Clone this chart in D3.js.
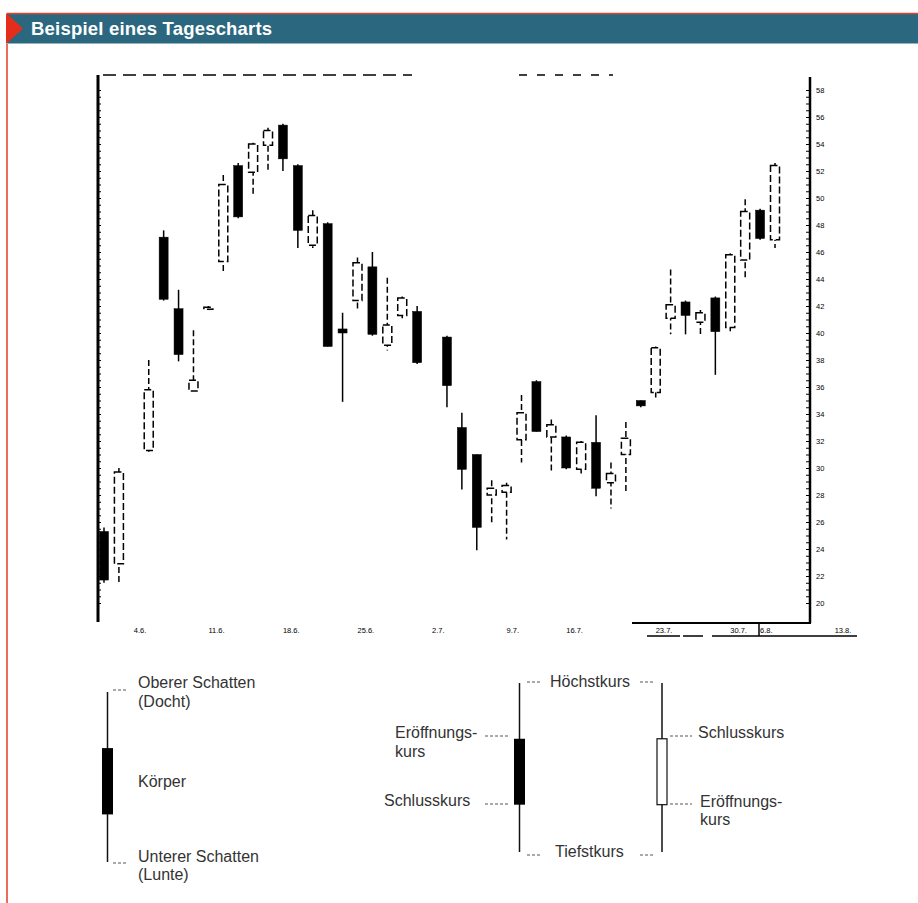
<!DOCTYPE html>
<html>
<head>
<meta charset="utf-8">
<title>Beispiel eines Tagescharts</title>
<script src="https://cdn.jsdelivr.net/npm/d3@7"></script>
<style>
  body { margin: 0; background: #fff; }
  svg { display: block; font-family: "Liberation Sans", Arial, sans-serif; }
  .note { font-size: 16px; fill: #333; }
  .lead { stroke: #555; stroke-width: 1; stroke-dasharray: 3,2; }
  .small { font-size: 7.5px; fill: #000; }
</style>
</head>
<body>
<div id="chart"></div>
<script>

// daily candles, trading day 0..45 (null = no candle that day)
var openP  = [25.3, 22.9, null, 31.3, 47.1, 41.8, 35.7, 41.8, 45.3, 52.4, 51.9, 53.9, 55.4, 52.4, 46.5, 48.1,
              40.3, 42.4, 44.9, 39.1, 41.3, 41.6, null, 39.7, 33.0, 31.0, 28.0, 28.2, 32.1, 36.4, 32.3, 32.3,
              29.9, 31.9, 28.9, 31.0, 35.0, 35.6, 41.1, 42.3, 40.8, 42.6, 40.4, 45.4, 49.1, 46.9];
var highP  = [25.6, 30.0, null, 38.0, 47.6, 43.2, 40.2, 42.0, 51.7, 52.6, 54.1, 55.2, 55.5, 52.5, 49.1, 48.2,
              41.5, 45.6, 46.0, 44.1, 42.7, 42.0, null, 39.8, 34.1, 31.0, 29.1, 28.9, 35.4, 36.5, 33.6, 32.4,
              32.0, 33.9, 30.4, 33.4, 35.0, 39.0, 44.7, 42.4, 41.7, 42.7, 45.9, 49.9, 49.2, 52.6];
var lowP   = [21.5, 21.5, null, 31.2, 42.4, 37.9, 35.6, 41.7, 44.5, 48.5, 50.1, 52.0, 52.0, 46.3, 46.3, 39.0,
              34.9, 41.6, 39.8, 38.7, 41.1, 37.7, null, 34.5, 28.4, 23.9, 25.9, 24.7, 30.4, 32.7, 29.6, 29.9,
              29.6, 27.9, 27.0, 28.1, 34.5, 35.0, 39.9, 39.9, 39.9, 36.9, 39.9, 43.9, 46.9, 46.3];
var closeP = [21.7, 29.7, null, 35.8, 42.5, 38.4, 36.5, 41.9, 51.0, 48.6, 54.0, 55.0, 52.9, 47.6, 48.7, 39.0,
              40.0, 45.2, 39.9, 40.6, 42.6, 37.8, null, 36.1, 29.9, 25.6, 28.5, 28.7, 34.1, 32.7, 33.2, 30.0,
              31.9, 28.5, 29.6, 32.2, 34.6, 38.9, 42.1, 41.3, 41.5, 40.1, 45.8, 49.0, 47.0, 52.4];

var priceTicks = d3.range(20, 59, 2);
var dateTicks  = [2, 7, 12, 17, 22, 27, 31, 37, 42, 44, 49];
var dateLabels = ["4.6.", "11.6.", "18.6.", "25.6.", "2.7.", "9.7.", "16.7.", "23.7.", "30.7.", "6.8.", "13.8."];

// legend example candle (open, high, low, close)
var legendOHLC = [6.7, 10, 0, 2.8];

var width = 918,
    height = 903;

var svg = d3.select("#chart").append("svg")
    .attr("width", width)
    .attr("height", height);

// header bar
svg.append("rect")
  .attr("x", 7).attr("y", 13.5)
  .attr("width", width - 7).attr("height", 30)
  .attr("fill", "#2b6880");
svg.append("line")
  .attr("x1", 7).attr("x2", width).attr("y1", 13.5).attr("y2", 13.5)
  .attr("stroke", "#e0452f").attr("stroke-width", 1.5);
svg.append("path")
  .attr("d", "M6,13 L23,28.5 L6,44 Z")
  .attr("fill", "#e42d1a");
svg.append("line")
  .attr("x1", 7).attr("x2", 7).attr("y1", 44).attr("y2", height)
  .attr("stroke", "#ef6a58").attr("stroke-width", 2);
svg.append("text")
  .attr("x", 31).attr("y", 35)
  .attr("fill", "#fff")
  .style("font-size", "18.5px")
  .style("font-weight", "bold")
  .style("letter-spacing", "0.2px")
  .text("Beispiel eines Tagescharts");

// scales
var x = d3.scaleLinear().domain([0, 45]).range([104, 775]);
var y = d3.scaleLinear().domain([20, 58]).range([603, 90]);

var days = openP.map(function(o, i) {
  return {i: i, o: o, h: highP[i], l: lowP[i], c: closeP[i]};
}).filter(function(d) { return d.o != null; });

// frame
var frame = svg.append("g").attr("stroke", "#000").attr("fill", "none");
frame.append("line").attr("x1", 98).attr("x2", 98).attr("y1", 75).attr("y2", 622).attr("stroke-width", 3);
frame.append("line").attr("x1", 103).attr("x2", 412).attr("y1", 75).attr("y2", 75)
  .attr("stroke-width", 1.5).attr("stroke-dasharray", "13,7");
frame.append("line").attr("x1", 519).attr("x2", 613).attr("y1", 75).attr("y2", 75)
  .attr("stroke-width", 1.5).attr("stroke-dasharray", "8,10");
frame.append("line").attr("x1", 810).attr("x2", 810).attr("y1", 77).attr("y2", 623).attr("stroke-width", 2.5);
frame.append("line").attr("x1", 632).attr("x2", 811).attr("y1", 623).attr("y2", 623).attr("stroke-width", 2);
frame.append("line").attr("x1", 647).attr("x2", 857).attr("y1", 636).attr("y2", 636)
  .attr("stroke-width", 1.5).attr("stroke-dasharray", "33,3,20,9,150");
frame.append("line").attr("x1", 759).attr("x2", 759).attr("y1", 623).attr("y2", 636).attr("stroke-width", 1.5);

// left minor ticks
var leftAxis = svg.append("g")
  .attr("transform", "translate(99,0)")
  .call(d3.axisRight(y).tickValues(d3.range(20, 58.01, 0.5)).tickSize(2).tickFormat(""));
leftAxis.select(".domain").remove();

// right axis: minor ticks and price labels
var rightTicks = svg.append("g")
  .attr("transform", "translate(809,0)")
  .call(d3.axisLeft(y).tickValues(d3.range(20, 58.01, 0.5)).tickSize(3).tickFormat(""));
rightTicks.select(".domain").remove();

var rightLabels = svg.append("g")
  .attr("transform", "translate(811,0)")
  .call(d3.axisRight(y).tickValues(priceTicks).tickSize(0).tickPadding(5));
rightLabels.select(".domain").remove();
rightLabels.selectAll("text")
  .attr("class", "small")
  .attr("fill", "#000")
  .style("font-family", "Liberation Sans, Arial");

// date labels
svg.append("g").selectAll("text")
  .data(dateTicks)
  .enter().append("text")
  .attr("class", "small")
  .attr("x", function(d) { return x(d); })
  .attr("y", 633)
  .text(function(d, i) { return dateLabels[i]; });

// candles
var candle = svg.append("g").selectAll("g")
  .data(days)
  .enter().append("g");

candle.append("line")
  .attr("x1", function(d) { return x(d.i); })
  .attr("x2", function(d) { return x(d.i); })
  .attr("y1", function(d) { return y(d.h); })
  .attr("y2", function(d) { return y(d.l); })
  .attr("stroke", "#000")
  .attr("stroke-width", 1.5)
  .attr("stroke-dasharray", function(d) { return d.c >= d.o ? "6,3" : null; });

candle.append("rect")
  .attr("x", function(d) { return x(d.i) - 4.5; })
  .attr("width", 9)
  .attr("y", function(d) { return y(Math.max(d.o, d.c)); })
  .attr("height", function(d) { return Math.max(2, y(Math.min(d.o, d.c)) - y(Math.max(d.o, d.c))); })
  .attr("fill", function(d) { return d.c >= d.o ? "#fff" : "#000"; })
  .attr("stroke", "#000")
  .attr("stroke-width", function(d) { return d.c >= d.o ? 1.5 : 0.5; })
  .attr("stroke-dasharray", function(d) { return d.c >= d.o ? "7,3" : null; });

// legend
function legendCandle(cx, yl, w, filled) {
  var o = legendOHLC[0], h = legendOHLC[1], l = legendOHLC[2], c = legendOHLC[3];
  if (!filled) { var t = o; o = c; c = t; }
  var g = svg.append("g");
  g.append("line")
    .attr("x1", cx).attr("x2", cx)
    .attr("y1", yl(h)).attr("y2", yl(l))
    .attr("stroke", "#111").attr("stroke-width", 1.5);
  g.append("rect")
    .attr("x", cx - w / 2).attr("width", w)
    .attr("y", yl(Math.max(o, c)))
    .attr("height", yl(Math.min(o, c)) - yl(Math.max(o, c)))
    .attr("fill", filled ? "#000" : "#fff")
    .attr("stroke", "#111").attr("stroke-width", filled ? 0 : 1.2);
}

var yLeft = d3.scaleLinear().domain([0, 10]).range([862, 692]);
var yRight = d3.scaleLinear().domain([0, 10]).range([852, 683]);
legendCandle(107.5, yLeft, 11, true);
legendCandle(519.5, yRight, 11, true);
legendCandle(662, yRight, 10, false);

var leads = [
  [113, 127, 690], [113, 127, 863],
  [527, 540, 682], [640, 653, 682], [527, 540, 855], [640, 653, 855],
  [485, 508, 736], [485, 508, 804], [670, 692, 736], [670, 692, 804]
];
svg.append("g").selectAll("line")
  .data(leads)
  .enter().append("line")
  .attr("class", "lead")
  .attr("x1", function(d) { return d[0]; })
  .attr("x2", function(d) { return d[1]; })
  .attr("y1", function(d) { return d[2]; })
  .attr("y2", function(d) { return d[2]; });

var notes = [
  ["Oberer Schatten", 138, 688], ["(Docht)", 138, 707], ["Körper", 138, 787],
  ["Unterer Schatten", 138, 862], ["(Lunte)", 138, 880],
  ["Höchstkurs", 550, 687], ["Tiefstkurs", 555, 857],
  ["Eröffnungs-", 395, 738], ["kurs", 395, 757], ["Schlusskurs", 384, 806],
  ["Schlusskurs", 698, 738], ["Eröffnungs-", 700, 807], ["kurs", 700, 825]
];
svg.append("g").selectAll("text")
  .data(notes)
  .enter().append("text")
  .attr("class", "note")
  .attr("x", function(d) { return d[1]; })
  .attr("y", function(d) { return d[2]; })
  .text(function(d) { return d[0]; });

</script>
</body>
</html>
